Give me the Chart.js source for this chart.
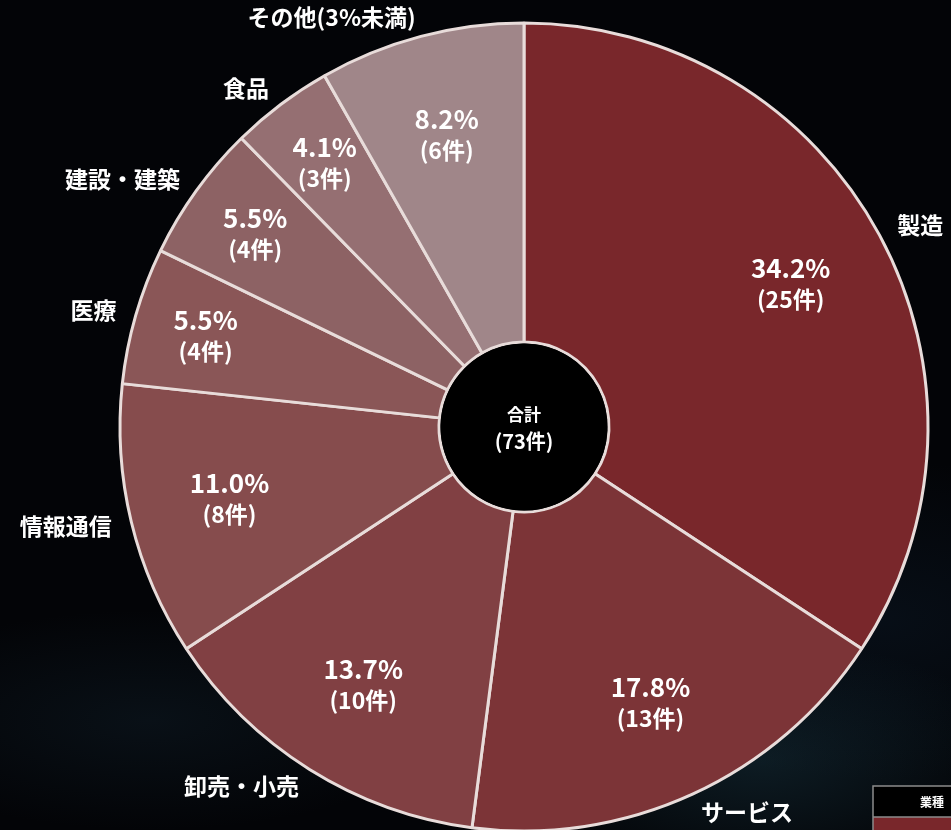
<!DOCTYPE html>
<html lang="ja">
<head>
<meta charset="utf-8">
<title>業種別内訳</title>
<script src="https://cdn.jsdelivr.net/npm/chart.js@4.4.1/dist/chart.umd.min.js"></script>
<style>
    html, body {
        margin: 0;
        padding: 0;
        width: 951px;
        height: 830px;
        overflow: hidden;
        background:
            radial-gradient(ellipse 260px 120px at 760px 760px, rgba(40, 90, 110, 0.28), transparent),
            radial-gradient(ellipse 300px 110px at 150px 720px, rgba(30, 60, 80, 0.22), transparent),
            radial-gradient(ellipse 300px 160px at 880px 620px, rgba(20, 45, 70, 0.25), transparent),
            #030407;
    }
    #wrap {
        position: relative;
        width: 951px;
        height: 830px;
    }
</style>
</head>
<body>
<div id="wrap"><canvas id="industry-chart"></canvas></div>
<script>
    const categories = ["製造", "サービス", "卸売・小売", "情報通信", "医療", "建設・建築", "食品", "その他(3%未満)"];
    const counts = [25, 13, 10, 8, 4, 4, 3, 6];
    const sliceColors = [
        "#79272b",
        "#7c3437",
        "#814043",
        "#864c4d",
        "#8a5657",
        "#8d6264",
        "#956f72",
        "#a08689"
    ];
    const centerTitle = "合計";
    const legendTitle = "業種";
    const countUnit = "件";

    const total = counts.reduce((a, b) => a + b, 0);
    const fontFamily = '"Noto Sans CJK JP", "Noto Sans", sans-serif';

    // percentage + count inside each slice, category name outside
    const sliceLabels = {
        id: 'sliceLabels',
        afterDatasetsDraw(chart) {
            const ctx = chart.ctx;
            const arcs = chart.getDatasetMeta(0).data;
            ctx.save();
            ctx.fillStyle = '#ffffff';
            arcs.forEach((arc, i) => {
                const {x, y, startAngle, endAngle, outerRadius} = arc.getProps(['x', 'y', 'startAngle', 'endAngle', 'outerRadius'], true);
                const mid = (startAngle + endAngle) / 2;
                const share = counts[i] / total;

                // inner label
                const r = outerRadius * (share < 0.06 ? 0.82 : 0.75);
                const ix = x + Math.cos(mid) * r;
                const iy = y + Math.sin(mid) * r;
                ctx.font = '600 26px ' + fontFamily;
                ctx.textAlign = 'center';
                ctx.textBaseline = 'middle';
                ctx.fillText((share * 100).toFixed(1) + '%', ix, iy - 15);
                ctx.font = '600 23px ' + fontFamily;
                ctx.fillText('(' + counts[i] + countUnit + ')', ix, iy + 16);

                // outer label
                const or = outerRadius + 20;
                const ox = x + Math.cos(mid) * or;
                let oy = y + Math.sin(mid) * or;
                oy = Math.min(Math.max(oy, 17), 814);
                ctx.font = 'bold 23px ' + fontFamily;
                ctx.textAlign = ox < x ? 'right' : 'left';
                ctx.fillText(categories[i], ox, oy);
            });
            ctx.restore();
        }
    };

    // black hole with total in the middle
    const centerTotal = {
        id: 'centerTotal',
        afterDatasetsDraw(chart) {
            const arc = chart.getDatasetMeta(0).data[0];
            if (!arc) return;
            const {x, y, innerRadius} = arc.getProps(['x', 'y', 'innerRadius'], true);
            const ctx = chart.ctx;
            ctx.save();
            ctx.beginPath();
            ctx.arc(x, y, innerRadius - 1.5, 0, Math.PI * 2);
            ctx.fillStyle = '#000000';
            ctx.fill();
            ctx.fillStyle = '#ffffff';
            ctx.textAlign = 'center';
            ctx.textBaseline = 'middle';
            ctx.font = 'bold 17px ' + fontFamily;
            ctx.fillText(centerTitle, x, y - 12);
            ctx.font = 'bold 20px ' + fontFamily;
            ctx.fillText('(' + total + countUnit + ')', x, y + 14);
            ctx.restore();
        }
    };

    // small legend box in the corner
    const cornerLegend = {
        id: 'cornerLegend',
        afterDraw(chart) {
            const ctx = chart.ctx;
            ctx.save();
            ctx.fillStyle = '#000000';
            ctx.fillRect(873, 786, 80, 31);
            ctx.fillStyle = sliceColors[0];
            ctx.fillRect(873, 817, 80, 14);
            ctx.strokeStyle = '#8c8c8c';
            ctx.lineWidth = 1.5;
            ctx.strokeRect(873, 786, 80, 46);
            ctx.beginPath();
            ctx.moveTo(873, 817);
            ctx.lineTo(953, 817);
            ctx.stroke();
            ctx.fillStyle = '#ffffff';
            ctx.font = 'bold 12px ' + fontFamily;
            ctx.textAlign = 'right';
            ctx.textBaseline = 'middle';
            ctx.fillText(legendTitle, 944, 802);
            ctx.restore();
        }
    };

    new Chart('industry-chart', {
        type: 'doughnut',
        data: {
            labels: categories,
            datasets: [{
                data: counts,
                backgroundColor: sliceColors,
                borderColor: '#e8dcda',
                borderWidth: 3
            }]
        },
        options: {
            responsive: true,
            maintainAspectRatio: false,
            animation: false,
            radius: 404,
            cutout: '21.04%',
            layout: {
                padding: {left: 97, top: 24, right: 0, bottom: 0}
            },
            plugins: {
                legend: {display: false},
                tooltip: {enabled: false}
            }
        },
        plugins: [sliceLabels, centerTotal, cornerLegend]
    });
</script>
</body>
</html>
